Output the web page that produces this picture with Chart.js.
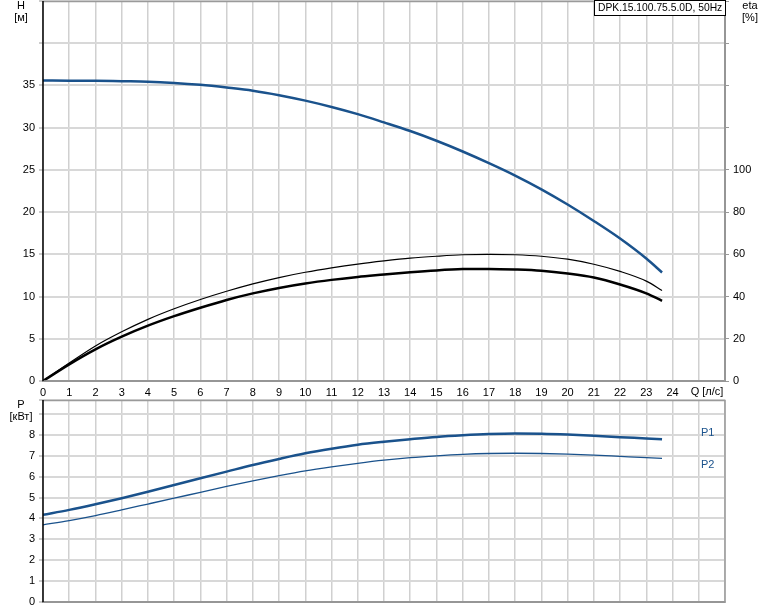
<!DOCTYPE html>
<html lang="ru">
<head>
<meta charset="UTF-8">
<title>DPK.15.100.75.5.0D</title>
<script src="https://cdn.jsdelivr.net/npm/chart.js"></script>
<style>
  body { margin: 0; background: #fff; }
  #top { position: absolute; left: 0; top: 0; }
  #bot { position: absolute; left: 0; top: 399px; }
</style>
</head>
<body>
<canvas id="top" width="774" height="400"></canvas>
<canvas id="bot" width="774" height="212"></canvas>
<script>
// flow, l/s
const qVals = [0,1,2,3,4,5,6,7,8,9,10,11,12,13,14,15,16,17,18,19,20,21,22,23,23.6];
// head, m
const headVals = [35.58,35.57,35.55,35.5,35.45,35.3,35.07,34.75,34.38,33.85,33.2,32.45,31.6,30.62,29.6,28.45,27.18,25.8,24.33,22.7,20.9,18.95,16.87,14.5,12.85];
// efficiency, %
const etaHydr = [0,8.5,16.6,23.3,29.2,34.2,38.6,42.5,46.0,49.0,51.5,53.6,55.4,56.9,58.2,59.1,59.8,60.0,59.8,59.1,57.7,55.3,51.9,47.3,42.9];
const etaTotal = [0,7.9,15.0,21.0,26.2,30.7,34.7,38.4,41.5,44.1,46.2,47.9,49.3,50.4,51.5,52.4,53.0,53.1,52.8,52.2,50.9,49.0,45.7,41.5,38.0];
// power, kW
const p1Vals = [4.17,4.41,4.68,4.97,5.28,5.6,5.92,6.24,6.56,6.85,7.12,7.34,7.53,7.67,7.79,7.9,7.98,8.04,8.07,8.06,8.02,7.96,7.89,7.83,7.79];
const p2Vals = [3.69,3.9,4.14,4.41,4.69,4.97,5.25,5.53,5.8,6.05,6.28,6.47,6.64,6.79,6.91,7.0,7.07,7.11,7.12,7.11,7.08,7.03,6.97,6.91,6.88];

const titleText = "DPK.15.100.75.5.0D, 50Hz";
const blue = "#1a528c";
const font = "Liberation Sans, Arial, sans-serif";

function pts(ys) {
    return qVals.map((q, i) => ({ x: q, y: ys[i] }));
}

function fixW(w) {
    return function (s) { s.width = w; s.paddingTop = 0; s.paddingBottom = 0; };
}
function fixH(h) {
    return function (s) { s.height = h; s.paddingLeft = 0; s.paddingRight = 0; };
}

const xGrid = { color: "#d0d0d0", lineWidth: 1.5, drawTicks: false };

function xScale(h, showTicks) {
    return {
        type: "linear", min: 0, max: 26,
        grid: xGrid,
        border: { color: "#8a8a8a", width: 2 },
        ticks: {
            display: showTicks, stepSize: 1, padding: 5, color: "#000",
            font: { family: font, size: 11 },
            callback: v => (v <= 24 ? v : "")
        },
        afterFit: fixH(h)
    };
}

const textPlugin = {
    id: "texts",
    afterDraw(chart) {
        const c = chart.ctx, a = chart.chartArea;
        c.save();
        // frame
        c.strokeStyle = "#9a9a9a";
        c.lineWidth = 1.5;
        c.beginPath();
        c.moveTo(a.left, a.top + 0.5);
        c.lineTo(a.right, a.top + 0.5);
        c.lineTo(a.right, a.bottom);
        c.lineTo(a.left, a.bottom);
        c.stroke();
        c.strokeStyle = "#000";
        c.lineWidth = 1.5;
        c.beginPath();
        c.moveTo(a.left, a.top);
        c.lineTo(a.left, a.bottom);
        c.stroke();
        c.font = "11px " + font;
        c.textBaseline = "middle";
        const opts = chart.options.plugins.texts;
        opts.items.forEach(t => {
            c.fillStyle = t.color || "#000";
            c.textAlign = t.align || "center";
            c.fillText(t.text, t.x, t.y);
        });
        if (opts.box) {
            const b = opts.box;
            c.fillStyle = "#fff";
            c.fillRect(b.x, b.y, b.w, b.h);
            c.strokeStyle = "#000";
            c.lineWidth = 1;
            c.strokeRect(b.x + 0.5, b.y + 0.5, b.w, b.h);
            c.fillStyle = "#000";
            c.textAlign = "left";
            c.font = "10.3px " + font;
            c.fillText(b.text, b.x + 4, b.y + b.h / 2 + 1);
        }
        c.restore();
    }
};

new Chart(document.getElementById("top"), {
    type: "line",
    data: {
        datasets: [
            { data: pts(headVals), yAxisID: "y", borderColor: blue, borderWidth: 2.5 },
            { data: pts(etaHydr), yAxisID: "yEta", borderColor: "#000", borderWidth: 1.2 },
            { data: pts(etaTotal), yAxisID: "yEta", borderColor: "#000", borderWidth: 2.5 }
        ]
    },
    options: {
        responsive: false,
        animation: false,
        layout: { padding: { top: 1, left: 0, right: 0, bottom: 0 } },
        elements: { point: { radius: 0 }, line: { cubicInterpolationMode: "monotone", fill: false } },
        plugins: {
            legend: { display: false }, tooltip: { enabled: false },
            texts: {
                items: [
                    { text: "H", x: 21, y: 6 },
                    { text: "[м]", x: 21, y: 18 },
                    { text: "eta", x: 750, y: 6 },
                    { text: "[%]", x: 750, y: 18 },
                    { text: "Q [л/с]", x: 707, y: 392 }
                ],
                box: { x: 594, y: 0, w: 131, h: 15, text: titleText }
            }
        },
        scales: {
            x: xScale(19, true),
            y: {
                type: "linear", position: "left", min: 0, max: 45,
                grid: { color: "#d8d8d8", lineWidth: 2, tickColor: "#999", tickLength: 4, tickWidth: 1 },
                border: { display: false },
                ticks: {
                    stepSize: 5, padding: 4, color: "#000",
                    font: { family: font, size: 11 },
                    callback: v => (v <= 35 ? v : "")
                },
                afterFit: fixW(43)
            },
            yEta: {
                type: "linear", position: "right", min: 0, max: 180,
                grid: { display: true, drawOnChartArea: false, tickColor: "#999", tickLength: 4 },
                border: { color: "#8a8a8a", width: 2 },
                ticks: {
                    stepSize: 20, padding: 4, color: "#000",
                    font: { family: font, size: 11 },
                    callback: v => (v <= 100 ? v : "")
                },
                afterFit: fixW(49)
            }
        }
    },
    plugins: [textPlugin]
});

new Chart(document.getElementById("bot"), {
    type: "line",
    data: {
        datasets: [
            { data: pts(p1Vals), borderColor: blue, borderWidth: 2.5 },
            { data: pts(p2Vals), borderColor: blue, borderWidth: 1.3 }
        ]
    },
    options: {
        responsive: false,
        animation: false,
        layout: { padding: { top: 1, left: 0, right: 49, bottom: 0 } },
        elements: { point: { radius: 0 }, line: { cubicInterpolationMode: "monotone", fill: false } },
        plugins: {
            legend: { display: false }, tooltip: { enabled: false },
            texts: {
                items: [
                    { text: "P", x: 21, y: 6 },
                    { text: "[кВт]", x: 21, y: 18 },
                    { text: "P1", x: 701, y: 34, color: blue, align: "left" },
                    { text: "P2", x: 701, y: 66, color: blue, align: "left" }
                ]
            }
        },
        scales: {
            x: xScale(9, false),
            y: {
                type: "linear", position: "left", min: 0, max: 9.67,
                grid: { color: "#d8d8d8", lineWidth: 2, tickColor: "#999", tickLength: 4, tickWidth: 1 },
                border: { display: false },
                ticks: {
                    stepSize: 1, padding: 4, color: "#000",
                    font: { family: font, size: 11 },
                    callback: v => (v <= 8 && Number.isInteger(v) ? v : "")
                },
                afterFit: fixW(43)
            }
        }
    },
    plugins: [textPlugin]
});
</script>
</body>
</html>
